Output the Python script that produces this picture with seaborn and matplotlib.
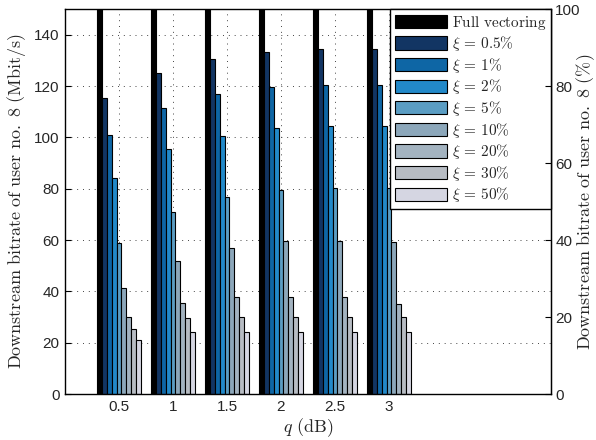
import pandas as pd
import numpy as np
import matplotlib
matplotlib.use("Agg")
import matplotlib.pyplot as plt
import seaborn as sns

# data
q_db = [0.5, 1, 1.5, 2, 2.5, 3]
q_labels = ["0.5", "1", "1.5", "2", "2.5", "3"]
series = ["Full vectoring", "0.5%", "1%", "2%", "5%", "10%", "20%", "30%", "50%"]

full_vect = [150, 150, 150, 150, 150, 150]
xi_05 = [115.2, 124.9, 130.6, 133.4, 134.3, 134.3]
xi_1 = [100.8, 111.4, 117.0, 119.5, 120.5, 120.5]
xi_2 = [84.0, 95.3, 100.4, 103.8, 104.5, 104.5]
xi_5 = [58.9, 70.8, 76.6, 79.4, 80.1, 80.1]
xi_10 = [41.2, 51.9, 56.8, 59.5, 59.6, 59.4]
xi_20 = [29.9, 35.3, 37.7, 37.7, 37.7, 35.0]
xi_30 = [25.3, 29.5, 29.9, 29.9, 29.9, 29.9]
xi_50 = [20.9, 24.2, 24.2, 24.2, 24.2, 24.3]

colors = ["#000000", "#123563", "#0e66a5", "#2289c9", "#5b9dc3",
          "#8ca7ba", "#a3b3c0", "#b7bcc3", "#d5d6e2"]

all_vals = [full_vect, xi_05, xi_1, xi_2, xi_5, xi_10, xi_20, xi_30, xi_50]
rows = []
for name, vals in zip(series, all_vals):
    for q, v in zip(q_db, vals):
        rows.append({"q": q, "series": name, "rate": v})
df = pd.DataFrame(rows)

sns.set_style("white")
plt.rcParams["mathtext.fontset"] = "cm"
plt.rcParams["font.family"] = ["Liberation Sans", "DejaVu Sans"]
plt.rcParams["xtick.direction"] = "in"
plt.rcParams["ytick.direction"] = "in"

fig = plt.figure(figsize=(5.96, 4.40), dpi=100)
ax = fig.add_axes([0.109, 0.1045, 0.8155, 0.875])

sns.barplot(data=df, x="q", y="rate", hue="series", hue_order=series,
            palette=colors, native_scale=True, width=0.8, gap=0,
            edgecolor="black", linewidth=0.8, saturation=1, ax=ax)

ax.set_xlim(0, 4.5)
ax.set_ylim(0, 150)
ax.set_xticks(q_db)
ax.set_xticklabels(q_labels, fontsize=11)
ax.set_yticks(range(0, 141, 20))
ax.set_yticklabels([str(v) for v in range(0, 141, 20)], fontsize=11)
ax.set_axisbelow(True)
ax.grid(True, linestyle=(0, (1, 5)), color="#444444", linewidth=0.7)
ax.set_xlabel(r"$q\ \mathrm{(dB)}$", fontsize=13, labelpad=2)
ax.set_ylabel(r"$\mathrm{Downstream\ bitrate\ of\ user\ no.\ 8\ (Mbit/s)}$", fontsize=13)
for sp in ax.spines.values():
    sp.set_color("black")
    sp.set_linewidth(1)
ax.tick_params(length=4, color="black", pad=4)

handles, _ = ax.get_legend_handles_labels()
leg_labels = [r"$\mathrm{Full\ vectoring}$"] + [r"$\xi\,=\,%s$" % s.replace("%", r"\%") for s in series[1:]]
leg = ax.legend(handles, leg_labels, loc="upper right", borderaxespad=0,
                fontsize=11, handlelength=3.4, handleheight=0.95,
                labelspacing=0.17, handletextpad=0.35, borderpad=0.3,
                frameon=True, fancybox=False, framealpha=1, edgecolor="black")
leg.get_frame().set_linewidth(1)

ax2 = ax.twinx()
ax2.set_ylim(0, 100)
ax2.set_yticks(range(0, 101, 20))
ax2.set_yticklabels([str(v) for v in range(0, 101, 20)], fontsize=11)
ax2.set_ylabel(r"$\mathrm{Downstream\ bitrate\ of\ user\ no.\ 8\ (\%)}$", fontsize=13)
ax2.yaxis.set_label_coords(1.072, 0.5)
ax2.yaxis.label.set_va("center")
ax2.yaxis.label.set_ha("center")
ax2.tick_params(length=4, color="black", direction="in", pad=3)
for sp in ax2.spines.values():
    sp.set_visible(False)
ax2.spines["right"].set_visible(True)
ax2.spines["right"].set_color("black")

fig.savefig("out.png", dpi=100)
